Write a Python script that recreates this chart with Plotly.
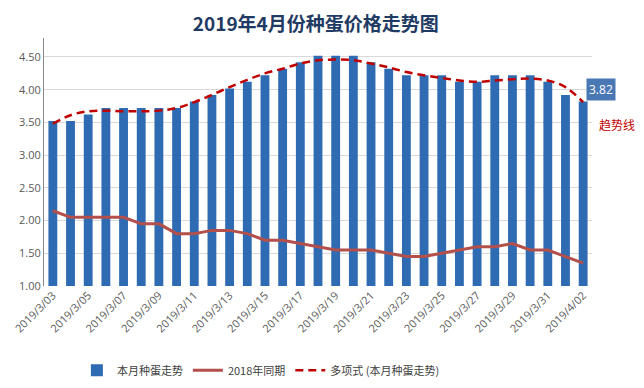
import plotly.graph_objects as go

dates = ["2019/3/%02d" % d for d in range(3, 32)] + ["2019/4/01", "2019/4/02"]
this_month = [3.52, 3.52, 3.62, 3.72, 3.72, 3.72, 3.72, 3.72, 3.82, 3.92, 4.02, 4.12, 4.22, 4.32, 4.42, 4.52,
              4.52, 4.52, 4.42, 4.32, 4.22, 4.22, 4.22, 4.12, 4.12, 4.22, 4.22, 4.22, 4.12, 3.92, 3.82]
last_year = [2.15, 2.05, 2.05, 2.05, 2.05, 1.95, 1.95, 1.80, 1.80, 1.85, 1.85, 1.80, 1.70, 1.70, 1.65, 1.60,
             1.55, 1.55, 1.55, 1.50, 1.45, 1.45, 1.50, 1.55, 1.60, 1.60, 1.65, 1.55, 1.55, 1.45, 1.35]
trend = [3.48, 3.61, 3.67, 3.68, 3.67, 3.67, 3.68, 3.72, 3.81, 3.92, 4.04, 4.15, 4.25, 4.32, 4.40, 4.45,
         4.46, 4.45, 4.40, 4.34, 4.27, 4.22, 4.18, 4.14, 4.12, 4.14, 4.16, 4.17, 4.14, 4.04, 3.81]
tick_labels = dates[::2]
y_ticks = [1.0, 1.5, 2.0, 2.5, 3.0, 3.5, 4.0, 4.5]

FONT = "Open Sans, Noto Sans CJK SC, sans-serif"

fig = go.Figure()
fig.add_trace(go.Bar(x=dates, y=this_month, name="本月种蛋走势",
                     marker=dict(color="#2f6bb2", line=dict(width=0)), width=0.5))
fig.add_trace(go.Scatter(x=dates, y=last_year, name="2018年同期", mode="lines",
                         line=dict(color="#b4504c", width=3)))
fig.add_trace(go.Scatter(x=dates, y=trend, name="多项式 (本月种蛋走势)", mode="lines",
                         line=dict(color="#c00000", width=2.5, dash="8px,5px", shape="spline")))

fig.add_annotation(x=1.0164, xref="paper", xanchor="center", y=this_month[-1], yref="y", yshift=12,
                   text="3.82", showarrow=False,
                   bgcolor="#4a78b5", font=dict(color="white", size=12, family=FONT), borderpad=2)
fig.add_annotation(x=1.045, y=0.653, xref="paper", yref="paper", xanchor="center", yanchor="middle",
                   text="趋势线", showarrow=False,
                   font=dict(color="#c00000", size=12, family="Noto Sans CJK SC"))

fig.update_layout(
    width=636, height=380,
    margin=dict(l=36, r=52, t=30, b=102, autoexpand=False),
    paper_bgcolor="white", plot_bgcolor="white",
    title=dict(text="<b>2019年4月份种蛋价格走势图</b>", x=0.484, xref="container", xanchor="center",
               y=0.958, yref="container", yanchor="middle",
               font=dict(size=19, color="#1f3b63", family="Noto Sans CJK SC")),
    font=dict(family=FONT, color="#595959", size=11),
    bargap=0.5,
    showlegend=True,
    legend=dict(orientation="h", x=0.06, xanchor="left", y=-0.34, yanchor="middle",
                font=dict(size=11, color="#404040", family="Noto Sans CJK SC"),
                itemwidth=30, tracegroupgap=0),
)
fig.update_xaxes(type="category", tickmode="array", tickvals=tick_labels, ticktext=tick_labels,
                 tickangle=-45, showgrid=False, showline=False, ticks="", automargin=False,
                 tickfont=dict(size=11, color="#595959"))
fig.update_yaxes(range=[1.0, 4.79], tickvals=y_ticks, tickformat=".2f", showgrid=True, gridcolor="#d9d9d9",
                 showline=True, linecolor="#888888", linewidth=1, zeroline=False, ticks="", automargin=False,
                 tickfont=dict(size=11, color="#595959"))

fig.write_html("out.html")
